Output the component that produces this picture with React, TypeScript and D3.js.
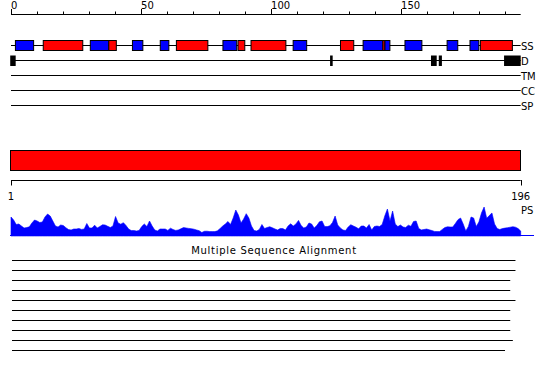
import React from "react";
import * as d3 from "d3";

const topTicks = [0, 10, 20, 30, 40, 50, 60, 70, 80, 90, 100, 110, 120, 130, 140, 150, 160, 170, 180, 190];
const topLabels = [0, 50, 100, 150];
const seqLength = 196;

const ssTypes = ["E", "H", "E", "H", "E", "E", "H", "E", "H", "H", "E", "H", "E", "H", "E", "E", "E", "E", "H"];
const ssStarts = [1.7, 12.4, 30.5, 37.6, 46.7, 57.4, 63.6, 81.5, 87.3, 92.3, 108.5, 126.7, 135.4, 143.0, 143.8, 151.5, 167.7, 176.5, 180.5];
const ssEnds = [8.7, 27.6, 37.6, 40.5, 50.7, 60.7, 75.7, 86.8, 89.9, 105.7, 113.7, 131.8, 143.0, 143.8, 145.7, 158.0, 171.8, 179.9, 192.8];

const dStarts = [-0.3, 122.7, 161.5, 164.5, 189.6];
const dEnds = [1.8, 123.7, 163.7, 165.7, 196];

const trackNames = ["SS", "D", "TM", "CC", "SP"];

const psValues = [
  19, 16, 11.5, 12, 10, 8, 8.4, 9.2, 13, 16,
  15, 13.5, 14, 19, 22, 20, 15, 10, 9, 11,
  10.5, 8.3, 6.4, 6, 7, 7, 7.5, 6.6, 7, 12.5,
  8, 8, 10.8, 8, 9.5, 11.2, 11, 9.7, 8.5, 10,
  19.5, 13, 11.8, 13.3, 10.5, 7, 5.4, 5.5, 5, 5.5,
  9.4, 12, 9.5, 15, 10, 6, 5, 7, 7, 7,
  5.6, 7.8, 6.5, 5.6, 6, 7.2, 8.4, 8, 7.6, 7.3,
  6.8, 6, 5.3, 3.5, 4.7, 4.8, 4.4, 4.4, 4.4, 5.2,
  7.5, 10, 12, 14.5, 11.5, 18, 26, 21, 13, 17,
  22.3, 18, 10, 5.5, 5, 6.5, 11.5, 7.5, 8.5, 9.3,
  8.2, 7, 6, 7.5, 7.4, 6, 10, 12.2, 10, 12,
  15.6, 10.5, 8, 9, 13, 12, 8, 10.5, 14.2, 15,
  9.4, 9.4, 10.2, 13.5, 20, 11, 8, 6, 5.5, 9,
  11.3, 10, 8.8, 7.2, 10, 10, 8, 11.5, 6, 9.5,
  10, 9.5, 11.5, 20, 27, 15, 25, 12, 9.4, 11,
  9, 8.5, 10.8, 9.7, 14.5, 15, 7.5, 6.1, 6.5, 7,
  6.2, 5.5, 4.6, 4.4, 4.4, 6.6, 8.5, 9.2, 9, 9,
  12.5, 16.3, 18, 12, 5, 9.6, 19, 18, 9.5, 14,
  23, 29, 17.7, 20.5, 23, 12, 7.5, 6.5, 7.4, 7.9,
  8.3, 8.8, 9.3, 8.8, 7.4, 5,
];

const msaStarts = [1, 1, 1, 1, 1, 1, 1, 1, 1, 1];
const msaEnds = [194, 194, 192, 192, 194, 192, 192, 192, 193, 190];
const msaTitle = "Multiple Sequence Alignment";

const FONT = "DejaVu Sans, Verdana, sans-serif";

export default function App() {
  const xTop = d3.scaleLinear().domain([0, seqLength]).range([11, 520.7]);
  const xRes = d3.scaleLinear().domain([1, seqLength]).range([11, 520.7]);
  const yPS = d3.scaleLinear().domain([0, 31]).range([236, 205]);
  const trackY = d3.scalePoint<string>().domain(trackNames).range([45, 105]);
  const msaY = d3.scaleLinear().domain([0, 9]).range([260.5, 350.5]);

  const area = d3
    .area<number>()
    .x((_, i) => xRes(i + 1))
    .y0(yPS(0))
    .y1((d) => yPS(d))
    .curve(d3.curveLinear);

  const colors: Record<string, string> = { H: "#ff0000", E: "#0000ff" };

  return (
    <svg
      width={550}
      height={380}
      style={{ position: "absolute", left: 0, top: 0, background: "#fff" }}
      fontFamily={FONT}
    >
      {/* top axis */}
      <line x1={xTop(0)} x2={xTop(seqLength)} y1={14.5} y2={14.5} stroke="#000" strokeWidth={1} />
      {topTicks.map((t) => {
        const major = topLabels.includes(t);
        const x = Math.round(xTop(t)) + 0.5;
        return <line key={t} x1={x} x2={x} y1={major ? 9 : 11.5} y2={15} stroke="#000" strokeWidth={1} />;
      })}
      {topLabels.map((t) => (
        <text key={t} x={xTop(t)} y={9} fontSize={10} fill="#000">
          {t}
        </text>
      ))}

      {/* track lines */}
      {trackNames.map((n) => (
        <g key={n}>
          <line x1={xTop(0)} x2={xTop(seqLength)} y1={trackY(n)! + 0.5} y2={trackY(n)! + 0.5} stroke="#000" strokeWidth={1} />
          <text x={521} y={trackY(n)! + 4.5} fontSize={10} fill="#000">
            {n}
          </text>
        </g>
      ))}

      {/* SS elements */}
      {ssTypes.map((t, i) => (
        <rect
          key={i}
          x={xTop(ssStarts[i])}
          y={trackY("SS")! - 4.5}
          width={xTop(ssEnds[i]) - xTop(ssStarts[i])}
          height={10}
          fill={colors[t]}
          stroke="#000"
          strokeWidth={1}
        />
      ))}

      {/* Disorder */}
      {dStarts.map((s, i) => (
        <rect
          key={i}
          x={xTop(s)}
          y={trackY("D")! - 4.5}
          width={xTop(dEnds[i]) - xTop(s)}
          height={10.5}
          fill="#000"
        />
      ))}

      {/* domain bar */}
      <rect x={10.5} y={150.5} width={510} height={20} fill="#ff0000" stroke="#000" strokeWidth={1} />

      {/* lower axis */}
      <line x1={xRes(1)} x2={xRes(seqLength)} y1={180.5} y2={180.5} stroke="#000" strokeWidth={1} />
      {[1, seqLength].map((t) => (
        <g key={t}>
          <line x1={Math.round(xRes(t)) + 0.5} x2={Math.round(xRes(t)) + 0.5} y1={180} y2={185.5} stroke="#000" strokeWidth={1} />
          <text x={xRes(t)} y={200} fontSize={10} textAnchor="middle" fill="#000">
            {t}
          </text>
        </g>
      ))}
      <text x={521} y={214} fontSize={10} fill="#000">
        PS
      </text>

      {/* PS profile */}
      <path d={area(psValues) || ""} fill="#0000ff" stroke="#0000ff" strokeWidth={0.6} />
      <line x1={10} x2={534} y1={235.5} y2={235.5} stroke="#0000ff" strokeWidth={1.2} />

      {/* MSA */}
      <text x={274} y={253.5} fontSize={10} textAnchor="middle" fill="#000" letterSpacing={0.7}>
        {msaTitle}
      </text>
      {msaStarts.map((s, i) => (
        <line
          key={i}
          x1={xRes(s) + 1}
          x2={xRes(msaEnds[i])}
          y1={msaY(i)}
          y2={msaY(i)}
          stroke="#000"
          strokeWidth={1}
        />
      ))}
    </svg>
  );
}
